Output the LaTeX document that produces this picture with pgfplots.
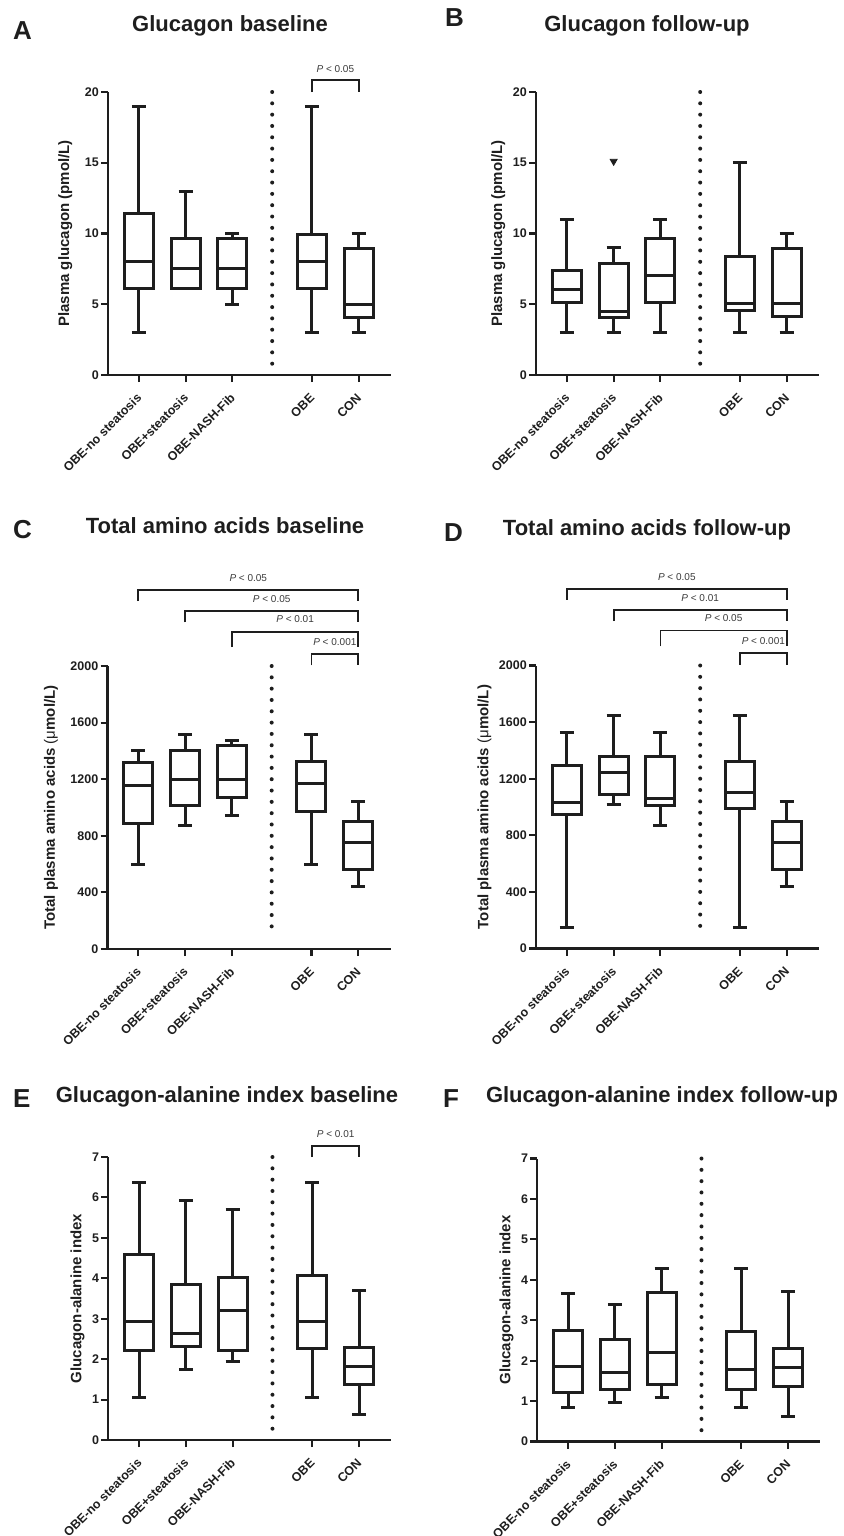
\documentclass[border=0pt]{standalone}
\usepackage{fontspec}
\setmainfont{Liberation Sans}
\usepackage{pgfplots}
\pgfplotsset{compat=1.18}
\usepgfplotslibrary{statistics}
\definecolor{ink}{HTML}{1E1E1E}
\definecolor{ptxt}{HTML}{3A3A3A}

\pgfplotsset{
  panel/.style={
    scale only axis, width=283pt, height=283pt,
    anchor=south west,
    xmin=0.34, xmax=6.39, ymin=0,
    clip=false,
    axis lines=left,
    axis line style={-, line width=2.1pt, ink},
    tick align=outside,
    major tick length=7pt,
    tick style={line width=2.1pt, ink},
    xtick={1,2,3,4.7,5.7},
    xticklabels={OBE-no steatosis,OBE+steatosis,OBE-NASH-Fib,OBE,CON},
    xticklabel style={xshift=1pt, yshift=-13pt, rotate=45, anchor=east, inner sep=1pt,
      font=\fontsize{12.5}{14}\selectfont\bfseries, text=ink},
    yticklabel style={font=\fontsize{12.5}{14}\selectfont\bfseries, text=ink, inner sep=2pt},
    ylabel style={font=\fontsize{15}{18}\selectfont\bfseries, text=ink},
    scaled y ticks=false,
    /pgf/number format/assume math mode=true,
    /pgf/number format/1000 sep={},
    boxplot/draw direction=y,
    boxplot/box extend=0.62,
    boxplot/whisker extend=0.3,
  },
  bx/.style={ink, line width=3pt, line join=miter, solid},
}
% box: position, min, q1, median, q3, max
\newcommand{\bx}[6]{\addplot[bx, boxplot prepared={draw position=#1,
  lower whisker=#2, lower quartile=#3, median=#4, upper quartile=#5,
  upper whisker=#6}] coordinates {};}
% dotted separator between groups
\newcommand{\sep}[2]{\addplot[ink, line width=4pt, line cap=round,
  dash pattern=on 0pt off 11.32pt] coordinates {(3.85,#1)(3.85,#2)};}
% bracket: x1, x2, leg bottom, top, text x, text y, p value
\newcommand{\brk}[7]{\addplot[ink, line width=1.8pt] coordinates {(#1,#3)(#1,#4)(#2,#4)(#2,#3)};
  \node[font=\fontsize{10}{12}\selectfont\mdseries, text=ptxt] at (axis cs:#5,#6) {\textit{P} < #7};}
\newcommand{\letter}[3]{\node[font=\fontsize{26}{30}\selectfont\bfseries, text=ink, anchor=base west, inner sep=0pt] at (#1pt,-#2pt) {#3};}
\newcommand{\ttl}[3]{\node[font=\fontsize{22}{26}\selectfont\bfseries, text=ink, anchor=base, inner sep=0pt] at (#1pt,-#2pt) {#3};}

\begin{document}
\begin{tikzpicture}
\path[use as bounding box] (0,0) rectangle (843pt,-1536pt);

% ---- A
\letter{13}{40}{A}
\ttl{230}{32}{Glucagon baseline}
\begin{axis}[panel, at={(108pt,-375pt)}, ymax=20, ytick={0,5,10,15,20},
  ylabel={Plasma glucagon (pmol/L)}, ylabel shift=7pt]
\bx{1}{3}{6.1}{8}{11.4}{19}
\bx{2}{6.1}{6.1}{7.5}{9.66}{13}
\bx{3}{5}{6.1}{7.5}{9.66}{10}
\bx{4.7}{3}{6.1}{8}{9.9}{19}
\bx{5.7}{3}{4.08}{5}{8.93}{10}
\sep{20}{0.77}
\brk{4.7}{5.7}{20}{20.85}{5.2}{21.65}{0.05}
\end{axis}

% ---- B
\letter{445}{27}{B}
\ttl{647}{32}{Glucagon follow-up}
\begin{axis}[panel, at={(536pt,-375pt)}, ymax=20, ytick={0,5,10,15,20},
  ylabel={Plasma glucagon (pmol/L)}, ylabel shift=2pt]
\bx{1}{3}{5.09}{6.04}{7.41}{11}
\bx{2}{3}{4.09}{4.5}{7.88}{9}
\bx{3}{3}{5.09}{7.03}{9.68}{11}
\bx{4.7}{3}{4.57}{5.02}{8.4}{15}
\bx{5.7}{3}{4.14}{5.02}{8.92}{10}
\addplot[only marks, mark=triangle*, mark size=4pt,
  mark options={rotate=180, fill=ink, draw=ink, line width=0.8pt}] coordinates {(2,15.1)};
\sep{20}{0.77}
\end{axis}

% ---- C
\letter{13}{538}{C}
\ttl{225}{533}{Total amino acids baseline}
\begin{axis}[panel, at={(107.5pt,-949pt)}, ymax=2000, ytick={0,400,800,1200,1600,2000},
  ylabel={Total plasma amino acids {\mdseries(μ}mol/L)}, ylabel shift=7pt]
\bx{1}{598}{887}{1155}{1315}{1405}
\bx{2}{875}{1016}{1198}{1405}{1513}
\bx{3}{944}{1073}{1198}{1440}{1475}
\bx{4.7}{598}{974}{1172}{1327}{1513}
\bx{5.7}{442}{562}{753}{901}{1042}
\sep{2000}{82}
\brk{1}{5.7}{2459}{2539}{3.35}{2624}{0.05}
\brk{2}{5.7}{2308}{2386}{3.85}{2475}{0.05}
\brk{3}{5.7}{2134}{2242}{4.35}{2329}{0.01}
\brk{4.7}{5.7}{2005}{2087}{5.2}{2169}{0.001}
\end{axis}

% ---- D
\letter{444}{541}{D}
\ttl{647}{535}{Total amino acids follow-up}
\begin{axis}[panel, at={(536pt,-948.5pt)}, ymax=2000, ytick={0,400,800,1200,1600,2000},
  ylabel={Total plasma amino acids {\mdseries(μ}mol/L)}, ylabel shift=2pt]
\bx{1}{148}{948}{1033}{1294}{1525}
\bx{2}{1016}{1085}{1245}{1360}{1645}
\bx{3}{866}{1009}{1059}{1358}{1525}
\bx{4.7}{148}{988}{1106}{1322}{1645}
\bx{5.7}{438}{560}{751}{899}{1038}
\sep{2000}{82}
\brk{1}{5.7}{2464}{2541}{3.35}{2628}{0.05}
\brk{2}{5.7}{2313}{2395}{3.85}{2478}{0.01}
\brk{3}{5.7}{2136}{2247}{4.35}{2332}{0.05}
\brk{4.7}{5.7}{2007}{2089}{5.2}{2176}{0.001}
\end{axis}

% ---- E
\letter{13}{1107}{E}
\ttl{227}{1102}{Glucagon-alanine index baseline}
\begin{axis}[panel, at={(108.3pt,-1440pt)}, ymax=7, ytick={0,1,...,7},
  ylabel={Glucagon-alanine index}, ylabel shift=2pt]
\bx{1}{1.04}{2.22}{2.94}{4.58}{6.38}
\bx{2}{1.74}{2.32}{2.63}{3.84}{5.92}
\bx{3}{1.93}{2.22}{3.2}{4.01}{5.7}
\bx{4.7}{1.04}{2.26}{2.94}{4.07}{6.38}
\bx{5.7}{0.62}{1.37}{1.83}{2.3}{3.7}
\sep{7}{0.04}
\brk{4.7}{5.7}{7}{7.27}{5.2}{7.56}{0.01}
\end{axis}

% ---- F
\letter{443}{1107}{F}
\ttl{662}{1102}{Glucagon-alanine index follow-up}
\begin{axis}[panel, at={(537.3pt,-1441.5pt)}, ymax=7, ytick={0,1,...,7},
  ylabel={Glucagon-alanine index}, ylabel shift=2pt]
\bx{1}{0.85}{1.22}{1.85}{2.74}{3.66}
\bx{2}{0.96}{1.29}{1.7}{2.53}{3.39}
\bx{3}{1.08}{1.41}{2.21}{3.69}{4.29}
\bx{4.7}{0.85}{1.29}{1.79}{2.73}{4.29}
\bx{5.7}{0.63}{1.37}{1.83}{2.3}{3.71}
\sep{7}{0.27}
\end{axis}
\end{tikzpicture}
\end{document}
